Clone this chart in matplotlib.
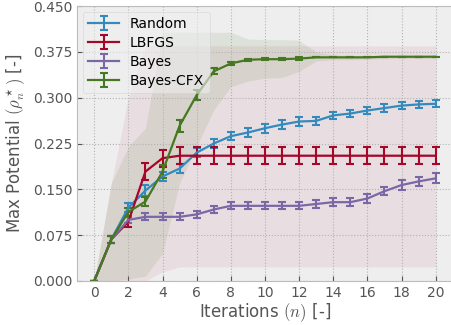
import numpy as np
import matplotlib
matplotlib.use("Agg")
import matplotlib.pyplot as plt

plt.style.use('bmh')

# data
iters = np.arange(0, 21)

random_mean = [0.0, 0.068, 0.120, 0.148, 0.171, 0.184, 0.210, 0.225, 0.237, 0.243, 0.250,
               0.256, 0.261, 0.262, 0.271, 0.274, 0.279, 0.283, 0.287, 0.289, 0.290]
random_err = [0.0, 0.006, 0.007, 0.009, 0.008, 0.007, 0.007, 0.007, 0.007, 0.007, 0.007,
              0.007, 0.007, 0.007, 0.006, 0.006, 0.006, 0.006, 0.006, 0.006, 0.006]

lbfgs_mean = [0.0, 0.068, 0.097, 0.179, 0.201] + [0.205] * 16
lbfgs_err = [0.0, 0.006, 0.008, 0.014, 0.014] + [0.0135] * 16

bayes_mean = [0.0, 0.068, 0.100, 0.105, 0.105, 0.105, 0.109, 0.117, 0.123, 0.123, 0.123,
              0.123, 0.123, 0.126, 0.129, 0.129, 0.135, 0.147, 0.157, 0.163, 0.168]
bayes_err = [0.0, 0.006, 0.005, 0.006, 0.006, 0.006, 0.006, 0.006, 0.006, 0.006, 0.006,
             0.006, 0.006, 0.007, 0.007, 0.007, 0.007, 0.007, 0.008, 0.008, 0.008]

cfx_mean = [0.0, 0.068, 0.113, 0.130, 0.179, 0.254, 0.304, 0.343, 0.356, 0.362, 0.363,
            0.363, 0.364, 0.366, 0.366, 0.366, 0.366, 0.367, 0.367, 0.367, 0.367]
cfx_err = [0.0, 0.006, 0.006, 0.008, 0.011, 0.0095, 0.008, 0.005, 0.003, 0.002, 0.002,
           0.002, 0.002, 0.0, 0.0, 0.0, 0.0, 0.0, 0.0, 0.0, 0.0]

# min / max envelopes
lbfgs_lo = [0.0, 0.0, 0.0, 0.0, 0.015] + [0.023] * 16
lbfgs_hi = [0.0, 0.16, 0.30, 0.385] + [0.385] * 17

cfx_lo = [0.0, 0.0, 0.003, 0.008, 0.045, 0.16, 0.22, 0.28, 0.318, 0.327, 0.332,
          0.333, 0.343, 0.360, 0.362, 0.362, 0.363, 0.364, 0.364, 0.364, 0.364]
cfx_hi = [0.0, 0.16, 0.22, 0.25, 0.407, 0.407, 0.407, 0.407, 0.407, 0.396, 0.395,
          0.395, 0.394, 0.375, 0.370, 0.369, 0.369, 0.369, 0.369, 0.369, 0.369]

colors = ['#348ABD', '#A60628', '#7A68A6', '#467821']

fig = plt.figure(figsize=(4.51, 3.25), dpi=100)
ax = fig.add_axes([0.171, 0.1354, 0.833, 0.8461])

ax.fill_between(iters, lbfgs_lo, lbfgs_hi, color=colors[1], alpha=0.07, lw=0)
ax.fill_between(iters, cfx_lo, cfx_hi, color=colors[3], alpha=0.1, lw=0)

series = [('Random', random_mean, random_err),
          ('LBFGS', lbfgs_mean, lbfgs_err),
          ('Bayes', bayes_mean, bayes_err),
          ('Bayes-CFX', cfx_mean, cfx_err)]
for (name, m, e), c in zip(series, colors):
    ax.errorbar(iters, m, yerr=e, color=c, lw=1.6, elinewidth=1.5,
                capsize=3, capthick=1.5, label=name)

ax.set_xlim(-1, 21)
ax.set_ylim(0, 0.45)
ax.set_xticks(range(0, 21, 2))
ax.set_yticks(np.arange(0, 0.451, 0.075))
ax.set_yticklabels(['%.3f' % v for v in np.arange(0, 0.451, 0.075)])
ax.tick_params(labelsize=10, colors='#555555', labelcolor='#555555')
ax.grid(True, linestyle=':', color='#b2b2b2', lw=0.8)

ax.set_xlabel(r'Iterations $(n)$ [-]', fontsize=12, color='#555555', labelpad=1)
ax.set_ylabel(r'Max Potential $(\rho_n^\star)$ [-]', fontsize=12, color='#555555')

ax.legend(loc='upper left', fontsize=10, framealpha=0.6, labelspacing=0.35,
          handlelength=2.2, borderaxespad=0.4)

fig.savefig('out.png', dpi=100)
